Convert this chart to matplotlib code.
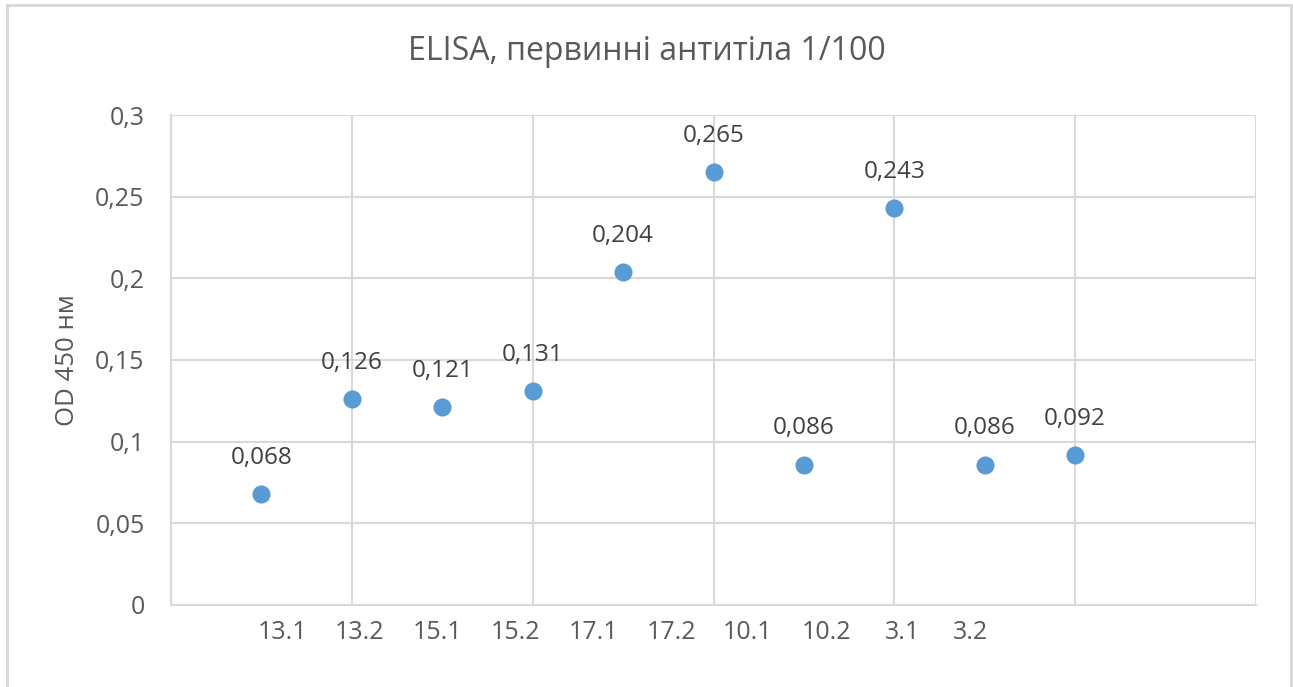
import numpy as np
import matplotlib.pyplot as plt
from matplotlib.patches import Rectangle

# ELISA readings, primary antibodies 1/100
samples = ['13.1', '13.2', '15.1', '15.2', '17.1', '17.2', '10.1', '10.2', '3.1', '3.2']
od450 = [0.068, 0.126, 0.121, 0.131, 0.204, 0.265, 0.086, 0.243, 0.086, 0.092]
x = np.arange(1, len(od450) + 1)

# where the sample names sit under the axis
label_pos = [1.23, 2.09, 2.95, 3.81, 4.67, 5.53, 6.38, 7.25, 8.09, 8.84]

plt.rcParams['font.family'] = ['Open Sans', 'DejaVu Sans']
grid_c = '#d9d9d9'
text_c = '#595959'

fig = plt.figure(figsize=(12.93, 6.87), dpi=100)
W, H = 1293, 687
ax = fig.add_axes([171 / W, (H - 605) / H, (1256 - 171) / W, (605 - 115) / H])

ax.scatter(x, od450, s=170, color='#5b9bd5', zorder=3, linewidths=0)
for xi, yi in zip(x, od450):
    ax.annotate(('%.3f' % yi).replace('.', ','), (xi, yi), xytext=(0, 26),
                textcoords='offset points', ha='center', va='center',
                fontsize=17.5, color='#404040')

ax.set_xlim(0, 12)
ax.set_ylim(0, 0.3)
ax.set_xticks(np.arange(0, 13, 2))
ax.set_xticklabels([])
ax.set_xticks(label_pos, minor=True)
ax.set_xticklabels(samples, minor=True)
yt = np.arange(0, 0.31, 0.05)
ax.set_yticks(yt)
ax.set_yticklabels(['0'] + [('%g' % v).replace('.', ',') for v in yt[1:]])
ax.tick_params(axis='both', which='both', length=0, labelsize=18, colors=text_c)
ax.tick_params(axis='y', pad=19)
ax.tick_params(axis='x', which='minor', pad=11)

ax.grid(True, which='major', color=grid_c, linewidth=1.5)
ax.set_axisbelow(True)
for side in ['top', 'right']:
    ax.spines[side].set_visible(False)
for side in ['left', 'bottom']:
    ax.spines[side].set_color(grid_c)
    ax.spines[side].set_linewidth(1.5)

ax.set_ylabel('OD 450 нм', fontsize=18.5, color=text_c, labelpad=11)
fig.text(0.5, (H - 52) / H, 'ELISA, первинні антитіла 1/100', ha='center',
         va='center', fontsize=23, color=text_c)

# outer chart frame
fig.patches.append(Rectangle((6.5 / W, -0.05), (1284.5 / W), (H - 4.5) / H + 0.05,
                             transform=fig.transFigure, fill=False,
                             edgecolor=grid_c, linewidth=2.2))

fig.savefig('out.png', dpi=100)
